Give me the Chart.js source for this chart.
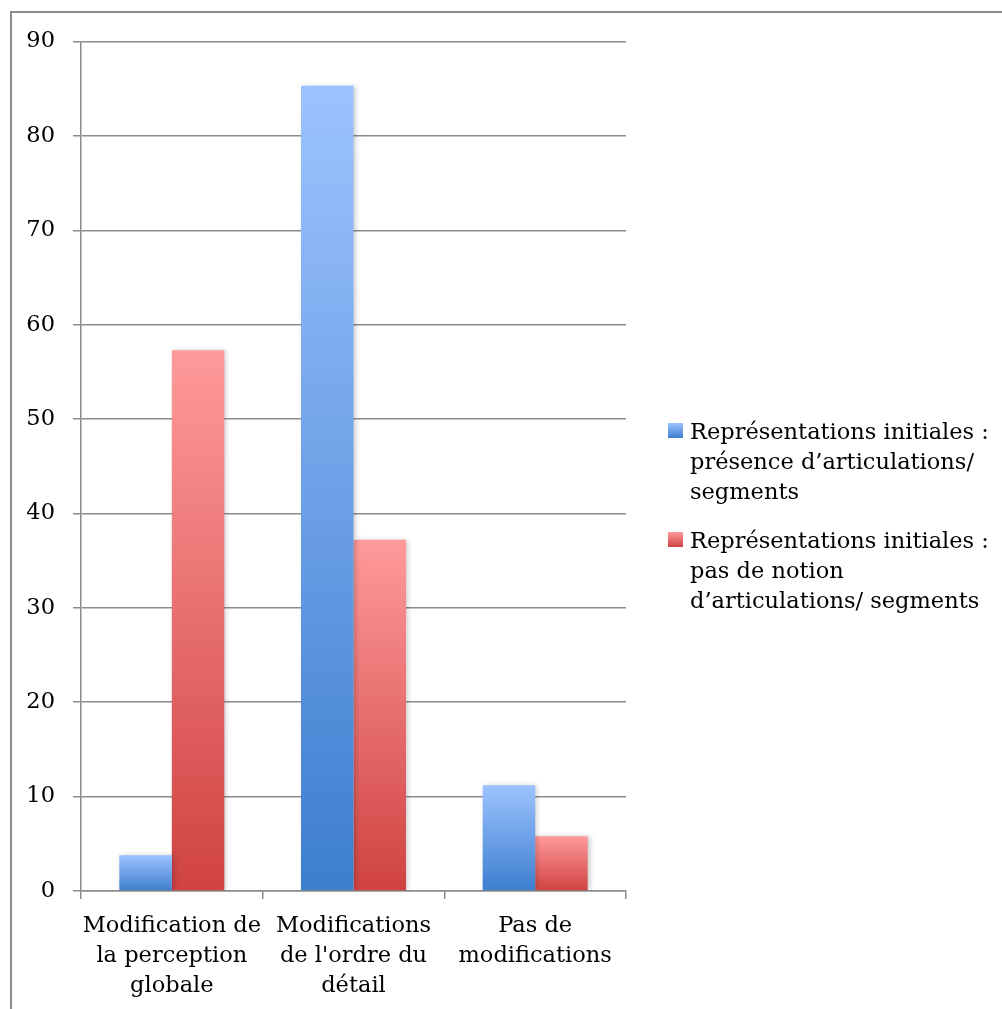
<!DOCTYPE html>
<html>
<head>
<meta charset="utf-8">
<script src="https://cdn.jsdelivr.net/npm/chart.js@4.4.1/dist/chart.umd.min.js"></script>
<style>
  html, body { margin: 0; padding: 0; background: #fff; }
  #wrap { position: relative; width: 1002px; height: 1009px; overflow: hidden; }
  canvas { position: absolute; left: 0; top: 0; }
  .leg { position: absolute; left: 668px; font-family: "DejaVu Serif", serif; font-size: 22.5px; line-height: 30px; color: #000; }
  .leg .sw { position: absolute; left: 0; width: 15px; height: 15px; }
  .leg .tx { position: absolute; left: 22px; white-space: nowrap; }
</style>
</head>
<body>
<div id="wrap">
  <canvas id="c" width="1002" height="1009"></canvas>
  <div id="legend"></div>
</div>
<script>
const categories = [
  ['Modification de', 'la perception', 'globale'],
  ['Modifications', "de l'ordre du", 'détail'],
  ['Pas de', 'modifications']
];
const seriesNames = [
  ['Représentations initiales :', 'présence d’articulations/', 'segments'],
  ['Représentations initiales :', 'pas de notion', 'd’articulations/ segments']
];
const presenceValues = [3.8, 85.3, 11.2];
const absenceValues = [57.3, 37.2, 5.8];
const yTicks = [0, 10, 20, 30, 40, 50, 60, 70, 80, 90];

const blueTop = '#9dc3ff', blueBottom = '#3d7ecf';
const redTop = '#ff9a9a', redBottom = '#d04242';

function gradient(top, bottom) {
  return (ctx) => {
    const chart = ctx.chart;
    if (!chart.chartArea || ctx.type !== 'data') return top;
    const y = chart.scales.y;
    const y0 = y.getPixelForValue(ctx.raw);
    const y1 = y.getPixelForValue(0);
    const g = chart.ctx.createLinearGradient(0, y0, 0, y1);
    g.addColorStop(0, top);
    g.addColorStop(1, bottom);
    return g;
  };
}

const FONT = '"DejaVu Serif", serif';
const FSIZE = 22.5;
const GRID = '#8c8c8c';

const frame = {
  id: 'frame',
  beforeDraw(chart) {
    const c = chart.ctx;
    c.save();
    c.strokeStyle = '#8c8c8c';
    c.lineWidth = 2;
    c.beginPath();
    c.moveTo(11, 1009);
    c.lineTo(11, 12);
    c.lineTo(1002, 12);
    c.stroke();
    c.restore();
  }
};

const shadow = {
  id: 'shadow',
  beforeDatasetsDraw(chart) {
    const c = chart.ctx;
    c.save();
    c.shadowColor = 'rgba(0,0,0,0.22)';
    c.shadowBlur = 5;
    c.shadowOffsetX = 2;
    c.shadowOffsetY = 0;
  },
  afterDatasetsDraw(chart) {
    chart.ctx.restore();
  }
};

new Chart(document.getElementById('c'), {
  type: 'bar',
  data: {
    labels: categories,
    datasets: [
      { label: seriesNames[0].join(' '), data: presenceValues, backgroundColor: gradient(blueTop, blueBottom), borderWidth: 0 },
      { label: seriesNames[1].join(' '), data: absenceValues, backgroundColor: gradient(redTop, redBottom), borderWidth: 0 }
    ]
  },
  options: {
    responsive: false,
    animation: false,
    devicePixelRatio: 1,
    layout: { padding: { left: 0, top: 41.5, right: 376, bottom: 0 } },
    datasets: { bar: { categoryPercentage: 0.578, barPercentage: 1 } },
    plugins: { legend: { display: false }, tooltip: { enabled: false } },
    scales: {
      x: {
        grid: { offset: true, drawOnChartArea: false, color: GRID, lineWidth: 1.5, tickLength: 8 },
        border: { color: GRID, width: 1.5 },
        ticks: { color: '#000', font: { family: FONT, size: FSIZE, lineHeight: 1.333 }, padding: 12, maxRotation: 0, autoSkip: false },
        afterFit(s) { s.height = 118; }
      },
      y: {
        min: 0, max: 90,
        afterBuildTicks(s) { s.ticks = yTicks.map(v => ({ value: v })); },
        grid: { color: GRID, lineWidth: 1.5, tickLength: 8 },
        border: { color: GRID, width: 1.5 },
        ticks: { color: '#000', font: { family: FONT, size: FSIZE }, padding: 18 },
        afterFit(s) { s.width = 81; }
      }
    }
  },
  plugins: [frame, shadow]
});

// HTML legend built from the series names and colours
const legend = document.getElementById('legend');
const legTops = [416, 525];
const swatches = [[blueTop, blueBottom], [redTop, redBottom]];
seriesNames.forEach((lines, i) => {
  const d = document.createElement('div');
  d.className = 'leg';
  d.style.top = legTops[i] + 'px';
  const sw = document.createElement('div');
  sw.className = 'sw';
  sw.style.top = '7px';
  sw.style.background = `linear-gradient(${swatches[i][0]}, ${swatches[i][1]})`;
  d.appendChild(sw);
  const tx = document.createElement('div');
  tx.className = 'tx';
  tx.innerHTML = lines.map(l => `<div>${l}</div>`).join('');
  d.appendChild(tx);
  legend.appendChild(d);
});
</script>
</body>
</html>
